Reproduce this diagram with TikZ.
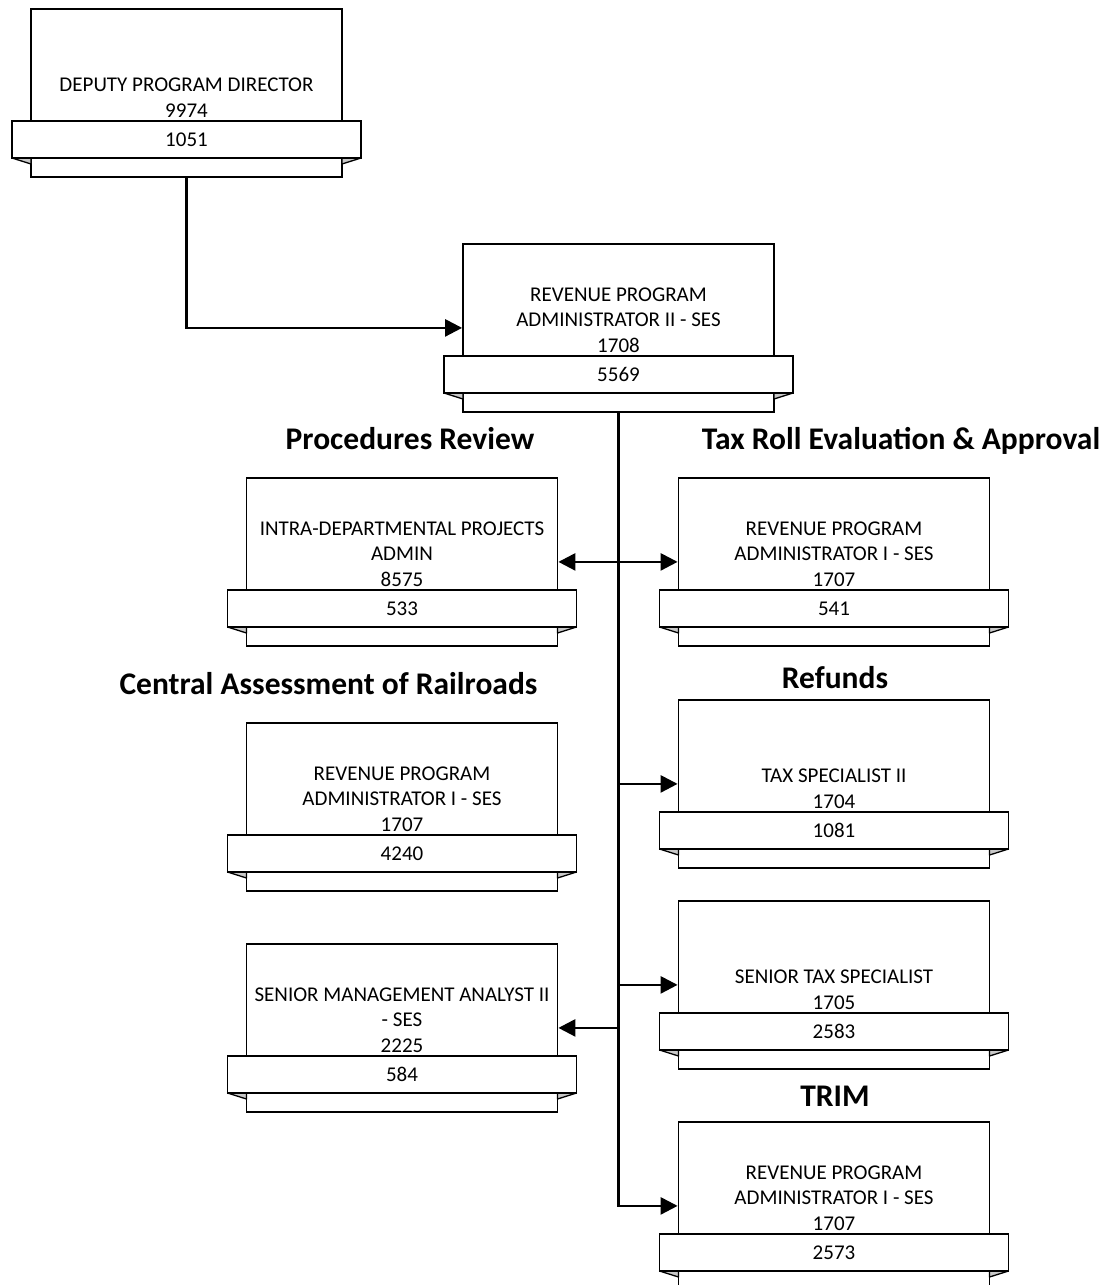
\documentclass[tikz,border=0pt]{standalone}
\usepackage{fontspec}
\setmainfont{Carlito}
\usetikzlibrary{arrows.meta}
\definecolor{foldgrey}{RGB}{200,200,200}
\tikzset{
  boxline/.style={draw=black, line width=1.8pt},
  posbox/.style={boxline, fill=white, rectangle, minimum width=311pt, minimum height=168pt, inner sep=0pt, anchor=north},
  band/.style={boxline, fill=white},
  fold/.style={draw=black, line width=1.3pt, fill=foldgrey, line join=round},
  boxtext/.style={font=\fontsize{21}{25.5}\selectfont, anchor=base, inner sep=0pt},
  header/.style={font=\fontsize{31.5}{38}\selectfont\bfseries, anchor=base, inner sep=0pt},
  link/.style={draw=black, line width=2.6pt},
  tip/.style={-{Triangle[length=17pt,width=17pt]}},
  bothtips/.style={{Triangle[length=17pt,width=17pt]}-{Triangle[length=17pt,width=17pt]}}
}
% #1 name, #2 centre x, #3 top y, #4 number of title lines, #5 title lines, #6 position number
\newcommand\orgbox[6]{%
  \node[posbox] (#1) at (#2,#3) {};
  \draw[fold] ({#2-174.5},{#3+150}) -- ({#2-155.5},{#3+156}) -- ({#2-155.5},{#3+150}) -- cycle;
  \draw[fold] ({#2+174.5},{#3+150}) -- ({#2+155.5},{#3+156}) -- ({#2+155.5},{#3+150}) -- cycle;
  \draw[band] ({#2-174.5},{#3+113}) rectangle ({#2+174.5},{#3+150});
  \foreach \t [count=\i] in {#5} {
    \pgfmathsetmacro\yb{#3+109-25.5*(#4-\i)}
    \node[boxtext] (#1-l\i) at (#2,\yb) {\t};
  }
  \node[boxtext] (#1-n) at (#2,{#3+138}) {#6};
}
\begin{document}
\begin{tikzpicture}[x=1pt,y=-1pt]
\useasboundingbox (0,0) rectangle (1118,1285);
\clip (0,0) rectangle (1118,1285);

% position boxes
\orgbox{dep}{186.5}{8}{2}{DEPUTY PROGRAM DIRECTOR,9974}{1051}
\orgbox{rpa}{618.5}{243}{3}{REVENUE PROGRAM,ADMINISTRATOR II - SES,1708}{5569}
\orgbox{proc}{402}{477}{3}{INTRA-DEPARTMENTAL PROJECTS,ADMIN,8575}{533}
\orgbox{tax}{834}{477}{3}{REVENUE PROGRAM,ADMINISTRATOR I - SES,1707}{541}
\orgbox{cent}{402}{722}{3}{REVENUE PROGRAM,ADMINISTRATOR I - SES,1707}{4240}
\orgbox{refunds}{834}{699}{2}{TAX SPECIALIST II,1704}{1081}
\orgbox{smgmt}{402}{943}{3}{SENIOR MANAGEMENT ANALYST II,- SES,2225}{584}
\orgbox{stax}{834}{900}{2}{SENIOR TAX SPECIALIST,1705}{2583}
\orgbox{trim}{834}{1121}{3}{REVENUE PROGRAM,ADMINISTRATOR I - SES,1707}{2573}

% section headings
\node[header] (hproc) at (410,449) {Procedures Review};
\node[header] (htax) at (901,449) {Tax Roll Evaluation \& Approval};
\node[header] (hcent) at (328.5,694) {Central Assessment of Railroads};
\node[header] (href) at (835,688) {Refunds};
\node[header] (htrim) at (835,1106) {TRIM};

% reporting lines
\draw[link, tip] (dep.south) |- (rpa.west);
\draw[link, tip] (rpa.south) |- (trim.west);
\draw[link, bothtips] (proc.east) -- (tax.west);
\draw[link, tip] (rpa.south |- refunds.west) -- (refunds.west);
\draw[link, tip] (rpa.south |- stax.west) -- (stax.west);
\draw[link, tip] (rpa.south |- smgmt.east) -- (smgmt.east);
\end{tikzpicture}
\end{document}
